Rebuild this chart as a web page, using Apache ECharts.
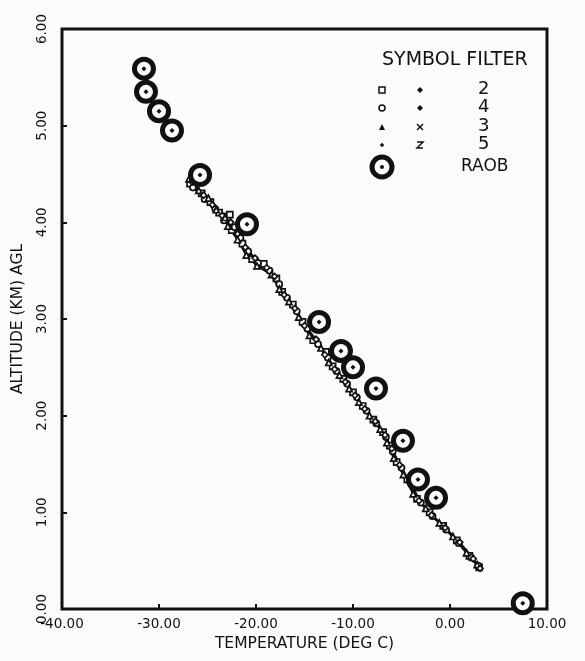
<!DOCTYPE html>
<html>
<head>
<meta charset="utf-8">
<script src="https://cdn.jsdelivr.net/npm/echarts@6/dist/echarts.min.js"></script>
<style>
html,body{margin:0;padding:0;background:#fbfbfa;}
#chart{width:585px;height:661px;}
</style>
</head>
<body>
<div id="chart"></div>
<script>
// Axis ticks
var xTicks = [-40, -30, -20, -10, 0, 10];
var yTicks = [0, 1, 2, 3, 4, 5, 6];

// RAOB soundings [temperature, altitude]
var raob = [[-31.55,5.59],[-31.34,5.35],[-30.0,5.15],[-28.66,4.95],[-25.77,4.49],[-20.93,3.98],
  [-13.5,2.97],[-11.24,2.67],[-10.0,2.50],[-7.63,2.28],[-4.85,1.74],[-3.3,1.34],[-1.44,1.15],[7.5,0.06]];

// Filtered profiles [temperature, altitude]
var filter2 = [[-26.8,4.40],[-25.6,4.30],[-24.7,4.21],[-23.8,4.10],[-22.7,4.08],[-22.5,3.92],[-21.4,3.78],[-20.4,3.62],[-19.2,3.57],[-17.9,3.42],[-17.3,3.28],[-16.2,3.15],[-15.2,2.97],[-14.1,2.78],[-12.8,2.66],[-12.1,2.51],[-11.0,2.38],[-10.0,2.24],[-9.0,2.10],[-7.9,1.96],[-6.9,1.83],[-6.2,1.69],[-5.5,1.52],[-4.4,1.34],[-3.4,1.14],[-2.1,1.00],[-0.7,0.86],[0.7,0.71],[2.0,0.55],[3.0,0.43]];
var filter4 = [[-26.5,4.36],[-25.3,4.24],[-24.2,4.14],[-23.3,4.02],[-22.2,3.95],[-21.6,3.84],[-20.8,3.70],[-19.8,3.58],[-18.6,3.50],[-17.6,3.36],[-16.8,3.22],[-15.8,3.08],[-14.7,2.90],[-13.6,2.74],[-12.6,2.60],[-11.7,2.46],[-10.6,2.33],[-9.6,2.19],[-8.6,2.05],[-7.6,1.92],[-6.6,1.78],[-5.9,1.63],[-5.0,1.46],[-4.0,1.29],[-3.0,1.10],[-1.8,0.96],[-0.4,0.82],[0.9,0.68],[2.2,0.53],[2.9,0.45]];
var filter3 = [[-26.9,4.45],[-25.9,4.33],[-24.9,4.25],[-24.1,4.13],[-23.2,4.05],[-22.9,3.96],[-21.9,3.82],[-21.0,3.66],[-19.9,3.55],[-18.4,3.46],[-17.6,3.31],[-16.6,3.18],[-15.6,3.02],[-14.5,2.83],[-13.3,2.70],[-12.5,2.55],[-11.4,2.42],[-10.4,2.28],[-9.4,2.14],[-8.3,2.00],[-7.2,1.86],[-6.5,1.72],[-5.8,1.56],[-4.8,1.39],[-3.8,1.19],[-2.5,1.04],[-1.1,0.89],[0.3,0.75],[1.7,0.58],[2.8,0.46]];
var filter5 = [[-26.6,4.42],[-25.4,4.28],[-24.5,4.18],[-23.5,4.07],[-22.6,4.00],[-21.9,3.88],[-21.1,3.74],[-20.1,3.63],[-18.9,3.53],[-18.1,3.44],[-17.1,3.25],[-16.0,3.11],[-15.0,2.93],[-13.8,2.79],[-12.9,2.63],[-11.9,2.48],[-10.8,2.35],[-9.8,2.21],[-8.8,2.07],[-7.7,1.94],[-6.7,1.80],[-6.0,1.66],[-5.2,1.49],[-4.2,1.31],[-3.2,1.12],[-1.9,0.97],[-0.5,0.84],[1.0,0.69],[2.4,0.52],[3.1,0.42]];

var legendRows = ['2', '4', '3', '5'];

var INK = '#111111';
var PAPER = '#fbfbfa';
var FONT = '"DejaVu Sans", sans-serif';

function lineSeries(name, data, symbol) {
  return {
    name: name, type: 'line', data: data, symbol: symbol, symbolSize: 6,
    lineStyle: {color: INK, width: 2},
    itemStyle: {color: PAPER, borderColor: INK, borderWidth: 1.7, opacity: 1},
    z: 3, animation: false
  };
}

var chart = echarts.init(document.getElementById('chart'));

var legendGraphics = [
  {type: 'text', left: 382, top: 51, style: {text: 'SYMBOL FILTER', font: '19px ' + FONT, fill: INK}}
];
var col1 = ['rect', 'circle', 'triangle', 'plus'];
var col2 = ['diamond', 'diamond', 'x', 'z'];
var rowY = [90, 108, 127, 145];
for (var i = 0; i < legendRows.length; i++) {
  legendGraphics.push({type: 'text', left: 478, top: rowY[i] - 10, style: {text: legendRows[i], font: '18px ' + FONT, fill: INK}});
  if (col1[i] === 'rect') legendGraphics.push({type: 'rect', shape: {x: 379, y: rowY[i] - 3, width: 6, height: 6}, style: {fill: PAPER, stroke: INK, lineWidth: 1.5}});
  if (col1[i] === 'circle') legendGraphics.push({type: 'circle', shape: {cx: 382, cy: rowY[i], r: 3}, style: {fill: PAPER, stroke: INK, lineWidth: 1.5}});
  if (col1[i] === 'triangle') legendGraphics.push({type: 'polygon', shape: {points: [[382, rowY[i] - 3], [385, rowY[i] + 3], [379, rowY[i] + 3]]}, style: {fill: INK}});
  if (col1[i] === 'plus') legendGraphics.push({type: 'polyline', shape: {points: [[380, rowY[i]], [384, rowY[i]]]}, style: {stroke: INK, lineWidth: 1.5}},
                                             {type: 'polyline', shape: {points: [[382, rowY[i] - 2], [382, rowY[i] + 2]]}, style: {stroke: INK, lineWidth: 1.5}});
  if (col2[i] === 'diamond') legendGraphics.push({type: 'polygon', shape: {points: [[420, rowY[i] - 3], [423, rowY[i]], [420, rowY[i] + 3], [417, rowY[i]]]}, style: {fill: INK}});
  if (col2[i] === 'x') legendGraphics.push({type: 'polyline', shape: {points: [[417, rowY[i] - 3], [423, rowY[i] + 3]]}, style: {stroke: INK, lineWidth: 1.5}},
                                          {type: 'polyline', shape: {points: [[423, rowY[i] - 3], [417, rowY[i] + 3]]}, style: {stroke: INK, lineWidth: 1.5}});
  if (col2[i] === 'z') legendGraphics.push({type: 'polyline', shape: {points: [[417, rowY[i] - 3], [423, rowY[i] - 3], [417, rowY[i] + 3], [423, rowY[i] + 3]]}, style: {fill: null, stroke: INK, lineWidth: 1.5}});
}
legendGraphics.push({type: 'circle', shape: {cx: 382, cy: 167, r: 10}, style: {fill: PAPER, stroke: INK, lineWidth: 5}});
legendGraphics.push({type: 'circle', shape: {cx: 382, cy: 167, r: 2}, style: {fill: INK}});
legendGraphics.push({type: 'text', left: 461, top: 158, style: {text: 'RAOB', font: '17px ' + FONT, fill: INK}});

chart.setOption({
  backgroundColor: PAPER,
  animation: false,
  textStyle: {fontFamily: FONT, color: INK},
  grid: {left: 62, right: 38, top: 29, bottom: 52, show: true, borderColor: INK, borderWidth: 3, backgroundColor: 'transparent'},
  xAxis: {
    type: 'value', min: xTicks[0], max: xTicks[xTicks.length - 1], interval: 10,
    name: 'TEMPERATURE (DEG C)', nameLocation: 'middle', nameGap: 27,
    nameTextStyle: {fontSize: 15.5, color: INK, fontFamily: FONT},
    axisLine: {show: false, onZero: false},
    axisTick: {show: true, inside: true, length: 5, lineStyle: {color: INK, width: 2}},
    splitLine: {show: false},
    axisLabel: {fontSize: 13.5, color: INK, margin: 8, formatter: function (v) { return v.toFixed(2); }}
  },
  yAxis: {
    type: 'value', min: yTicks[0], max: yTicks[yTicks.length - 1], interval: 1,
    name: 'ALTITUDE (KM) AGL', nameLocation: 'middle', nameGap: 36,
    nameTextStyle: {fontSize: 15.5, color: INK, fontFamily: FONT},
    axisLine: {show: false, onZero: false},
    axisTick: {show: true, inside: true, length: 5, lineStyle: {color: INK, width: 2}},
    splitLine: {show: false},
    axisLabel: {fontSize: 13.5, color: INK, margin: 13, rotate: 90, formatter: function (v) { return v.toFixed(2); }}
  },
  graphic: legendGraphics,
  series: [
    lineSeries('2', filter2, 'rect'),
    lineSeries('4', filter4, 'circle'),
    lineSeries('3', filter3, 'triangle'),
    lineSeries('5', filter5, 'diamond'),
    {
      name: 'RAOB', type: 'scatter', data: raob, symbol: 'circle', symbolSize: 19,
      itemStyle: {color: PAPER, borderColor: INK, borderWidth: 5, opacity: 1}, z: 5
    },
    {
      name: 'RAOB centre', type: 'scatter', data: raob, symbol: 'diamond', symbolSize: 5,
      itemStyle: {color: INK, opacity: 1}, z: 6
    }
  ]
});
</script>
</body>
</html>
